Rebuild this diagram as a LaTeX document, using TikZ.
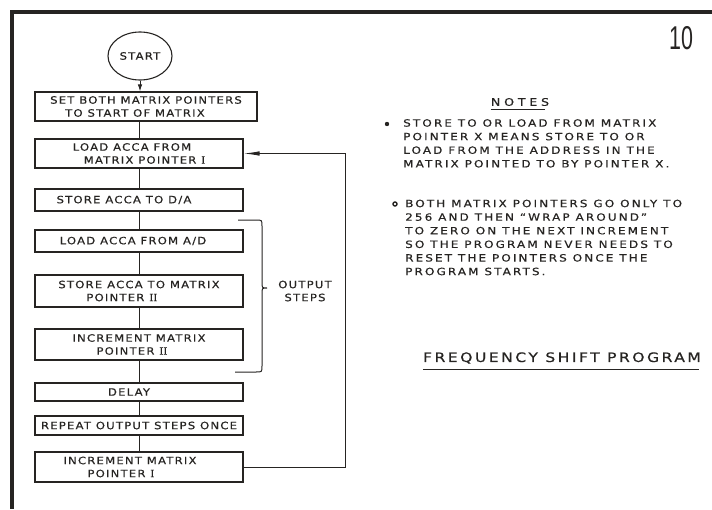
\documentclass[tikz,border=0pt]{standalone}
\usepackage{fontspec}
\usetikzlibrary{
  shapes.geometric,
  arrows.meta,
  positioning
}
\newfontfamily\boxfont[LetterSpace=12,FakeStretch=1.15,FakeBold=0.4]{DejaVu Sans}
\newfontfamily\notefont[LetterSpace=21,FakeStretch=1.2,FakeBold=0.4]{DejaVu Sans}
\newfontfamily\headfont[LetterSpace=36,FakeStretch=1.2,FakeBold=0.4]{DejaVu Sans}
\newfontfamily\titlefont[LetterSpace=19,FakeStretch=1.2,FakeBold=0.5]{DejaVu Sans}
\newfontfamily\ptrfont[FakeBold=0.4]{DejaVu Serif}
\newfontfamily\pagefont{Liberation Sans}
\newcommand{\ptrnum}[1]{{\ptrfont #1}}
\definecolor{inkcolor}{RGB}{38, 36, 34}
\definecolor{papercolor}{RGB}{255, 255, 255}
\tikzset{
boxtext/.style={
  align=left,
  font=\boxfont\fontsize{10.1}{13}\selectfont,
  text=inkcolor
},
stepbox/.style={
  draw=inkcolor,
  line width=1.1pt,
  minimum width=208pt,
  inner sep=2pt,
  boxtext
},
startnode/.style={
  ellipse,
  draw=inkcolor,
  line width=1.1pt,
  minimum width=64pt,
  minimum height=48pt,
  inner sep=0pt,
  boxtext
},
notetext/.style={
  align=left,
  font=\notefont\fontsize{10}{13.6}\selectfont,
  text=inkcolor,
  inner sep=0pt
},
headtext/.style={
  font=\headfont\fontsize{10.5}{12}\selectfont,
  text=inkcolor,
  inner xsep=0pt
},
flowline/.style={
  draw=inkcolor,
  line width=1pt
},
arrow/.style={
  flowline,
  -{Latex[length=7pt,width=4.5pt]}
},
looparrow/.style={
  flowline,
  -{Latex[length=16pt,width=4.5pt]}
},
framerule/.style={
  draw=inkcolor,
  line width=3.5pt
}
}

\begin{document}
\begin{tikzpicture}[x=1pt,y=-1pt]
  \useasboundingbox[fill=papercolor] (0,0) rectangle (712,509);
  % sheet edges
  \draw[framerule] (10,12) -- (712,12);
  \draw[framerule] (12,10) -- (12,509);
  \node[text=inkcolor, inner sep=0pt] (page) at (681,38)
    {\scalebox{0.65}[1]{\pagefont\fontsize{33}{33}\selectfont 10}};

  % flow chart
  \node[startnode] (start) at (140,56) {START};
  \node[stepbox, minimum width=222pt, minimum height=29pt] (setptr) at (146,106.5)
    {SET BOTH MATRIX POINTERS\\\hspace*{15pt}TO START OF MATRIX};
  \node[stepbox, minimum height=29pt] (loadmx) at (139,153.5)
    {LOAD ACCA FROM\\\hspace*{11pt}MATRIX POINTER \ptrnum{I}};
  \node[stepbox, minimum height=22pt] (storeda) at (139,200)
    {STORE ACCA TO D/A\hspace*{30pt}};
  \node[stepbox, minimum height=22pt] (loadad) at (139,241)
    {LOAD ACCA FROM A/D\hspace*{12pt}};
  \node[stepbox, minimum height=32pt] (storemx) at (139,291)
    {STORE ACCA TO MATRIX\\\hspace*{28pt}POINTER \ptrnum{II}};
  \node[stepbox, minimum height=31pt] (incptrb) at (139,344.5)
    {INCREMENT MATRIX\\\hspace*{24pt}POINTER \ptrnum{II}};
  \node[stepbox, minimum height=18pt] (delay) at (139,392)
    {\hspace*{-20pt}DELAY};
  \node[stepbox, minimum height=19pt] (repeat) at (139,425.5)
    {REPEAT OUTPUT STEPS ONCE};
  \node[stepbox, minimum height=30pt] (incptra) at (139,467)
    {INCREMENT MATRIX\hspace*{18pt}\\\hspace*{24pt}POINTER \ptrnum{I}};

  \draw[arrow] (start.south) -- (start.south |- setptr.north);
  \draw[flowline] (loadmx.north |- setptr.south) -- (loadmx.north);
  \draw[flowline] (loadmx) -- (storeda);
  \draw[flowline] (storeda) -- (loadad);
  \draw[flowline] (loadad) -- (storemx);
  \draw[flowline] (storemx) -- (incptrb);
  \draw[flowline] (incptrb) -- (delay);
  \draw[flowline] (delay) -- (repeat);
  \draw[flowline] (repeat) -- (incptra);

  % loop back
  \coordinate (loopx) at (345,0);
  \draw[looparrow] (incptra.east) -- (incptra.east -| loopx) |- (loadmx.east);

  % output steps brace
  \draw[flowline] (238,220) -- (256,220) .. controls (262,220) .. (262,226)
    -- (262,282) .. controls (262,288) .. (267,288)
    .. controls (262,288) .. (262,294) -- (262,366)
    .. controls (262,372) .. (256,372) -- (235,372);
  \node[boxtext, align=center] (outsteps) at (305,291) {OUTPUT\\STEPS};

  % notes
  \node[headtext, inner ysep=3.5pt] (notes) at (520,102) {NOTES};
  \draw[flowline] (notes.south west) -- ([xshift=-4pt]notes.south east);
  \fill[inkcolor] (387,124) circle (2.2);
  \node[notetext, anchor=north west] (noteone) at (403,119)
    {STORE TO OR LOAD FROM MATRIX\\
     POINTER X MEANS STORE TO OR\\
     LOAD FROM THE ADDRESS IN THE\\
     MATRIX POINTED TO BY POINTER X.};
  \draw[inkcolor, line width=1.4pt] (395,204) circle (2);
  \node[notetext, anchor=north west] (notetwo) at (405,199.5)
    {BOTH MATRIX POINTERS GO ONLY TO\\
     256 AND THEN “WRAP AROUND”\\
     TO ZERO ON THE NEXT INCREMENT\\
     SO THE PROGRAM NEVER NEEDS TO\\
     RESET THE POINTERS ONCE THE\\
     PROGRAM STARTS.};

  \node[headtext, font=\titlefont\fontsize{13}{15}\selectfont, inner ysep=5.2pt] (title) at (562,358)
    {FREQUENCY SHIFT PROGRAM};
  \draw[flowline] (title.south west) -- ([xshift=-2pt]title.south east);
\end{tikzpicture}
\end{document}
